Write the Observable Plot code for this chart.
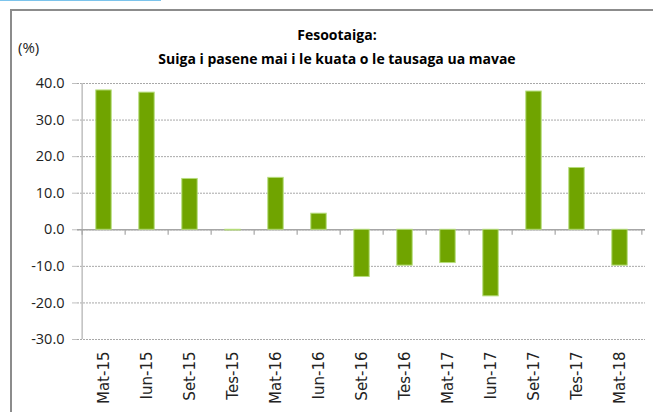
<!DOCTYPE html>
<html>
<head>
<meta charset="utf-8">
<script src="https://cdn.jsdelivr.net/npm/d3@7"></script>
<script src="https://cdn.jsdelivr.net/npm/@observablehq/plot@0.6"></script>
<style>
  html, body { margin: 0; padding: 0; background: #fff; }
  #wrap { position: relative; width: 653px; height: 412px; overflow: hidden; background: #fff; }
  #frame { position: absolute; left: 10px; top: 9px; width: 700px; height: 500px; border: 2px solid #8c8c8c; box-sizing: border-box; }
  #blue { position: absolute; left: -10px; top: -20px; width: 171px; height: 21px; border: 1.5px solid #7cc4ec; box-sizing: border-box; }
  #title { position: absolute; left: 137px; width: 400px; top: 23px; text-align: center; font-family: "Open Sans", sans-serif; font-weight: bold; font-size: 14px; line-height: 24px; color: #000; }
  #unit { position: absolute; left: 18px; top: 37px; font-family: "Open Sans", sans-serif; font-size: 15px; color: #222; }
  #chart { position: absolute; left: 0; top: 0; }
</style>
</head>
<body>
<div id="wrap">
  <div id="blue"></div>
  <div id="frame"></div>
  <div id="chart"></div>
  <div id="title">Fesootaiga:<br>Suiga i pasene mai i le kuata o le tausaga ua mavae</div>
  <div id="unit">(%)</div>
</div>
<script>
const categories = ["Mat-15","Iun-15","Set-15","Tes-15","Mat-16","Iun-16","Set-16","Tes-16","Mat-17","Iun-17","Set-17","Tes-17","Mat-18"];
const values = [38.1, 37.5, 13.9, -0.2, 14.2, 4.4, -12.9, -9.8, -9.1, -18.2, 37.8, 16.9, -9.8];
const yTicks = [-30, -20, -10, 0, 10, 20, 30, 40];

const data = categories.map((c, i) => ({cat: c, value: values[i]}));

const W = 653, H = 412;
const mL = 77, mR = 8, mT = 83, mB = 73;
const bw = (W - mL - mR) / categories.length;

const chart = Plot.plot({
  width: W,
  height: H,
  marginLeft: mL,
  marginRight: mR,
  marginTop: mT,
  marginBottom: mB,
  style: {background: "transparent", overflow: "visible", color: "#222"},
  x: {type: "band", domain: categories, paddingInner: 0, paddingOuter: 0, label: null},
  y: {domain: [-30, 40], label: null},
  marks: [
    Plot.gridY(yTicks, {stroke: "#a8a8a8", strokeOpacity: 1, strokeWidth: 1, strokeDasharray: "2,1"}),
    Plot.ruleX(categories.slice(0, 1), {x: d => d, dx: -bw / 2, y1: -30, y2: 40, stroke: "#bfbfbf", strokeWidth: 1.5}),
    Plot.ruleY([0], {stroke: "#a6a6a6", strokeWidth: 1.5}),
    Plot.ruleX(categories, {x: d => d, dx: -bw / 2, y1: 0, y2: -1.5, stroke: "#a6a6a6", strokeWidth: 1.2}),
    Plot.ruleX(categories.slice(-1), {x: d => d, dx: bw / 2, y1: 0, y2: -1.5, stroke: "#a6a6a6", strokeWidth: 1.2}),
    Plot.barY(data, {x: "cat", y: "value", fill: "#70a400", stroke: "#b5dc7a", strokeWidth: 1, insetLeft: 13.8, insetRight: 13.8}),
    Plot.axisY(yTicks, {tickFormat: d => d.toFixed(1), tickSize: 5, tickPadding: 8, stroke: "#bfbfbf", fontSize: 14.5, fontFamily: "Open Sans", fill: "#222"}),
    Plot.axisX({tickRotate: -90, tickSize: 0, tickPadding: 12, fontSize: 15, fontFamily: "DejaVu Sans", fill: "#222", label: null})
  ]
});
document.getElementById("chart").appendChild(chart);
</script>
</body>
</html>
